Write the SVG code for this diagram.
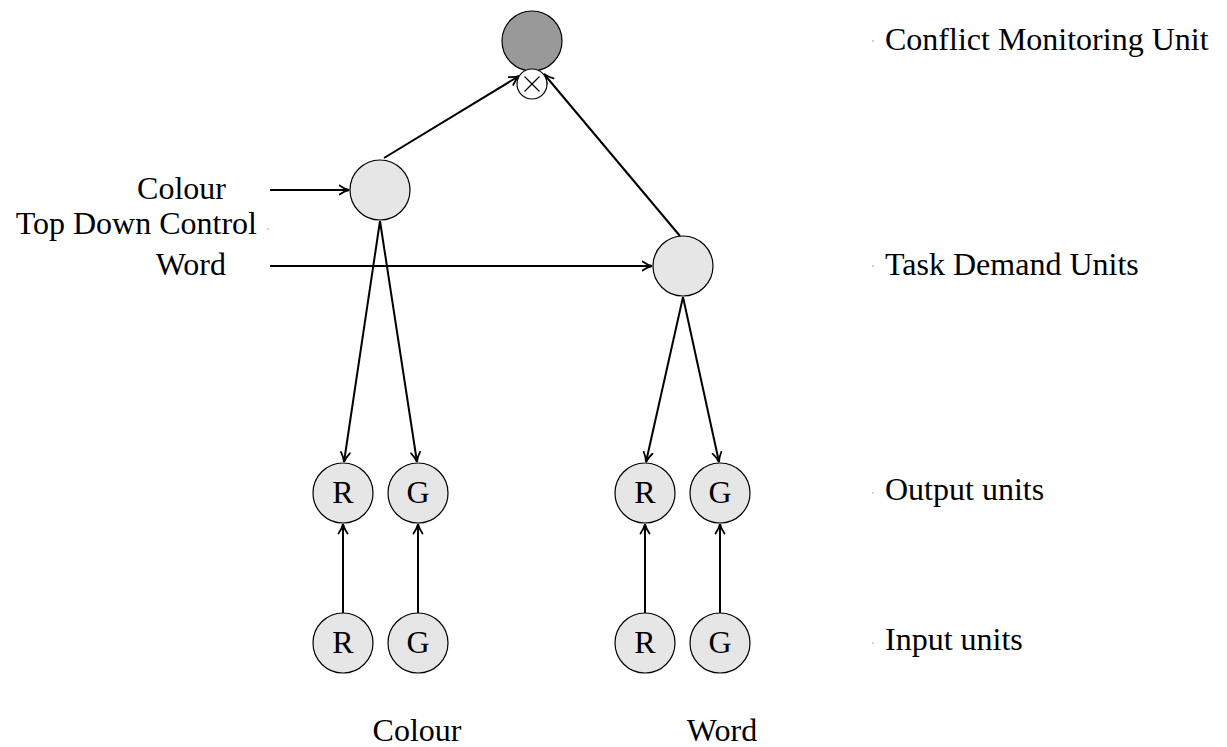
<svg xmlns="http://www.w3.org/2000/svg" width="1227" height="747" viewBox="0 0 1227 747">
<style>
text{font-family:"Liberation Serif","Times New Roman",serif;font-size:32px;fill:#000}
.n{fill:#e6e6e6;stroke:#000;stroke-width:1.2}
.c{stroke:#000;stroke-width:2;fill:none;marker-end:url(#ah)}
.lbl{text-anchor:middle}
.dot{fill:#888}
</style>
<defs>
<marker id="ah" viewBox="0 0 12 12" refX="10.5" refY="6" markerWidth="12" markerHeight="12" markerUnits="userSpaceOnUse" orient="auto">
<path d="M1,1.5 Q6,5 10.5,6 Q6,7 1,10.5" fill="none" stroke="#000" stroke-width="1.8" stroke-linecap="round"/>
</marker>
</defs>
<g id="connectors">
<path class="c" d="M384,158 L519,76"/>
<path class="c" d="M680,236 L544,74"/>
<path class="c" d="M270,190 L349,190"/>
<path class="c" d="M270,266 L652,266"/>
<path class="c" d="M380,221 L344,462"/>
<path class="c" d="M380,221 L417,462"/>
<path class="c" d="M683,297 L646,462"/>
<path class="c" d="M683,297 L719,462"/>
<path class="c" d="M343,613 L343,524"/>
<path class="c" d="M418,613 L418,524"/>
<path class="c" d="M645,613 L645,524"/>
<path class="c" d="M720,613 L720,524"/>
</g>
<g id="conflict">
<circle cx="532" cy="41" r="30" fill="#999" stroke="#000" stroke-width="1.2"/>
</g>
<g id="mult">
<circle cx="532" cy="84" r="15" fill="#fff" stroke="#000" stroke-width="1.2"/>
<path d="M524.5,76.5 L539.5,91.5 M539.5,76.5 L524.5,91.5" stroke="#000" stroke-width="1.2"/>
</g>
<g id="task-colour"><circle class="n" cx="380" cy="190" r="30"/></g>
<g id="task-word"><circle class="n" cx="683" cy="266" r="30"/></g>
<g id="out-colour-R"><circle class="n" cx="343" cy="493" r="30"/><text class="lbl" x="343" y="503">R</text></g>
<g id="out-colour-G"><circle class="n" cx="418" cy="493" r="30"/><text class="lbl" x="418" y="503">G</text></g>
<g id="out-word-R"><circle class="n" cx="645" cy="493" r="30"/><text class="lbl" x="645" y="503">R</text></g>
<g id="out-word-G"><circle class="n" cx="720" cy="493" r="30"/><text class="lbl" x="720" y="503">G</text></g>
<g id="in-colour-R"><circle class="n" cx="343" cy="643" r="30"/><text class="lbl" x="343" y="653">R</text></g>
<g id="in-colour-G"><circle class="n" cx="418" cy="643" r="30"/><text class="lbl" x="418" y="653">G</text></g>
<g id="in-word-R"><circle class="n" cx="645" cy="643" r="30"/><text class="lbl" x="645" y="653">R</text></g>
<g id="in-word-G"><circle class="n" cx="720" cy="643" r="30"/><text class="lbl" x="720" y="653">G</text></g>
<g id="labels">
<text x="226" y="199" text-anchor="end">Colour</text>
<text x="257" y="234" text-anchor="end">Top Down Control</text>
<text x="226" y="275" text-anchor="end">Word</text>
<circle class="dot" cx="268" cy="229" r="0.7"/>
<text x="885" y="50">Conflict Monitoring Unit</text>
<text x="885" y="275">Task Demand Units</text>
<text x="885" y="500">Output units</text>
<text x="885" y="650">Input units</text>
<circle class="dot" cx="873" cy="41" r="0.7"/>
<circle class="dot" cx="873" cy="266" r="0.7"/>
<circle class="dot" cx="873" cy="493" r="0.7"/>
<circle class="dot" cx="873" cy="643" r="0.7"/>
<text class="lbl" x="417" y="741">Colour</text>
<text class="lbl" x="722" y="741">Word</text>
</g>
</svg>
